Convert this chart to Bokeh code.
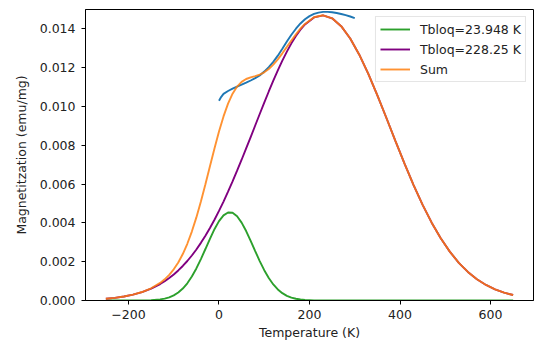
from bokeh.plotting import figure
from bokeh.models import Range1d, FixedTicker, PrintfTickFormatter, Legend, LegendItem, ColumnDataSource
from bokeh.embed import file_html
from bokeh.resources import INLINE

# Temperature grid (K) of the fitted curves
temperature = [-250, -230, -210, -190, -170, -150, -130,
               -120, -110, -100, -90, -80, -70, -60, -50, -40, -30, -20, -10,
               0, 10, 20, 30, 40, 50, 60, 70, 80, 90, 100, 110, 120, 130, 140,
               150, 160, 170, 180, 190,
               210, 230, 250, 270, 290, 310, 330, 350, 370, 390, 410, 430, 450,
               470, 490, 510, 530, 550, 570, 590, 610, 630, 650]

# Tbloq = 23.948 K component (green)
low_component = [0.0, 0.0, 0.0, 0.000001, 0.000004, 0.000017, 0.000057,
                 0.000098, 0.000164, 0.000265, 0.000411, 0.000616, 0.000888, 0.001234,
                 0.001653, 0.002134, 0.002654, 0.003181, 0.003675,
                 0.004090, 0.004388, 0.004537, 0.004520, 0.004340, 0.004015, 0.003580,
                 0.003077, 0.002548, 0.002033, 0.001564, 0.001159, 0.000828, 0.000570,
                 0.000378, 0.000242, 0.000149, 0.000088, 0.000051, 0.000028,
                 0.000008, 0.000002, 0.0, 0.0, 0.0, 0.0, 0.0, 0.0, 0.0, 0.0, 0.0,
                 0.0, 0.0, 0.0, 0.0, 0.0, 0.0, 0.0, 0.0, 0.0, 0.0, 0.0, 0.0]

# Tbloq = 228.25 K component (purple)
high_component = [0.000091, 0.000138, 0.000206, 0.000301, 0.000433, 0.000612, 0.000849,
                  0.000993, 0.001157, 0.001341, 0.001549, 0.001780, 0.002036, 0.002320,
                  0.002631, 0.002971, 0.003340, 0.003737, 0.004165,
                  0.004619, 0.005101, 0.005608, 0.006139, 0.006689, 0.007256, 0.007837,
                  0.008426, 0.009020, 0.009614, 0.010199, 0.010774, 0.011329, 0.011861,
                  0.012364, 0.012830, 0.013255, 0.013633, 0.013959, 0.014230,
                  0.014591, 0.014700, 0.014546, 0.014141, 0.013506, 0.012671, 0.011679,
                  0.010574, 0.009407, 0.008219, 0.007055, 0.005951, 0.004929, 0.004012,
                  0.003208, 0.002519, 0.001943, 0.001473, 0.001097, 0.000802, 0.000577,
                  0.000407, 0.000282]

# Sum of both components (orange)
sum_curve = [0.000091, 0.000138, 0.000206, 0.000302, 0.000437, 0.000629, 0.000906,
             0.001091, 0.001321, 0.001606, 0.001960, 0.002396, 0.002924, 0.003554,
             0.004284, 0.005105, 0.005994, 0.006918, 0.007840,
             0.008709, 0.009489, 0.010145, 0.010659, 0.011029, 0.011271, 0.011417,
             0.011503, 0.011568, 0.011647, 0.011763, 0.011933, 0.012157, 0.012431,
             0.012742, 0.013072, 0.013404, 0.013721, 0.014010, 0.014258,
             0.014599, 0.014702, 0.014546, 0.014141, 0.013506, 0.012671, 0.011679,
             0.010574, 0.009407, 0.008219, 0.007055, 0.005951, 0.004929, 0.004012,
             0.003208, 0.002519, 0.001943, 0.001473, 0.001097, 0.000802, 0.000577,
             0.000407, 0.000282]

# Measured curve (blue)
meas_temperature = [0, 5, 10, 20, 30, 40, 50, 60, 70, 80, 90, 100, 110, 120, 130, 140,
                    150, 160, 170, 180, 190, 200, 210, 220, 230, 240, 250, 260, 270,
                    280, 290, 300]
meas_magnetization = [0.01030, 0.01050, 0.01065, 0.01080, 0.01092, 0.01103, 0.01113,
                      0.01123, 0.01134, 0.01146, 0.01160, 0.01180, 0.01203, 0.01230,
                      0.01262, 0.01298, 0.01335, 0.01370, 0.01401, 0.01428, 0.01450,
                      0.01466, 0.01477, 0.01484, 0.01488, 0.01488, 0.01486, 0.01482,
                      0.01477, 0.01471, 0.01464, 0.01456]

x_ticks = [-200, 0, 200, 400, 600]
x_tick_labels = ["\u2212200", "0", "200", "400", "600"]
y_ticks = [0.0, 0.002, 0.004, 0.006, 0.008, 0.010, 0.012, 0.014]

labels = ["Tbloq=23.948 K", "Tbloq=228.25 K", "Sum"]

FONT = "DejaVu Sans"
TEXT = "#222222"

p = figure(width=540, height=342, output_backend="svg", toolbar_location=None,
           x_range=Range1d(-295, 695), y_range=Range1d(0, 0.015),
           min_border_left=85, min_border_right=7, min_border_top=9, min_border_bottom=42)

p.xgrid.visible = False
p.ygrid.visible = False
p.outline_line_color = "black"
p.outline_line_width = 1
p.outline_line_alpha = 1.0
p.background_fill_color = "white"
p.border_fill_color = "white"

src = ColumnDataSource(dict(t=temperature, low=low_component, high=high_component, s=sum_curve))
meas = ColumnDataSource(dict(t=meas_temperature, m=meas_magnetization))

p.line("t", "m", source=meas, line_color="#1f77b4", line_width=1.9)
r1 = p.line("t", "low", source=src, line_color="#2ca02c", line_width=1.9)
r2 = p.line("t", "high", source=src, line_color="#800080", line_width=1.9)
r3 = p.line("t", "s", source=src, line_color="#ff7f0e", line_width=1.9, line_alpha=0.85)

for ax in (p.xaxis[0], p.yaxis[0]):
    ax.axis_line_color = "black"
    ax.major_tick_line_color = "black"
    ax.major_tick_out = 4
    ax.major_tick_in = 0
    ax.minor_tick_line_color = None
    ax.major_label_text_font = FONT
    ax.major_label_text_font_size = "12.5px"
    ax.major_label_text_color = TEXT
    ax.axis_label_text_font = FONT
    ax.axis_label_text_font_size = "12.5px"
    ax.axis_label_text_font_style = "normal"
    ax.axis_label_text_color = TEXT

p.xaxis.ticker = FixedTicker(ticks=x_ticks)
p.xaxis.major_label_overrides = {t: l for t, l in zip(x_ticks, x_tick_labels)}
p.xaxis.axis_label = "Temperature (K)"
p.xaxis.major_label_standoff = 5
p.xaxis.axis_label_standoff = 3

p.yaxis.ticker = FixedTicker(ticks=y_ticks)
p.yaxis.formatter = PrintfTickFormatter(format="%.3f")
p.yaxis.axis_label = "Magnetitzation (emu/mg)"
p.yaxis.major_label_standoff = 6
p.yaxis.axis_label_standoff = 8

legend = Legend(items=[LegendItem(label=labels[0], renderers=[r1]),
                       LegendItem(label=labels[1], renderers=[r2]),
                       LegendItem(label=labels[2], renderers=[r3])],
                location="top_right", margin=7, padding=4, spacing=4,
                glyph_width=30, glyph_height=16, label_height=16, label_standoff=10,
                label_text_font=FONT, label_text_font_size="12.5px", label_text_color=TEXT,
                border_line_color="#cccccc", border_line_width=1,
                background_fill_alpha=0.8)
p.add_layout(legend, "center")

open("out.html", "w").write(file_html(p, INLINE))
